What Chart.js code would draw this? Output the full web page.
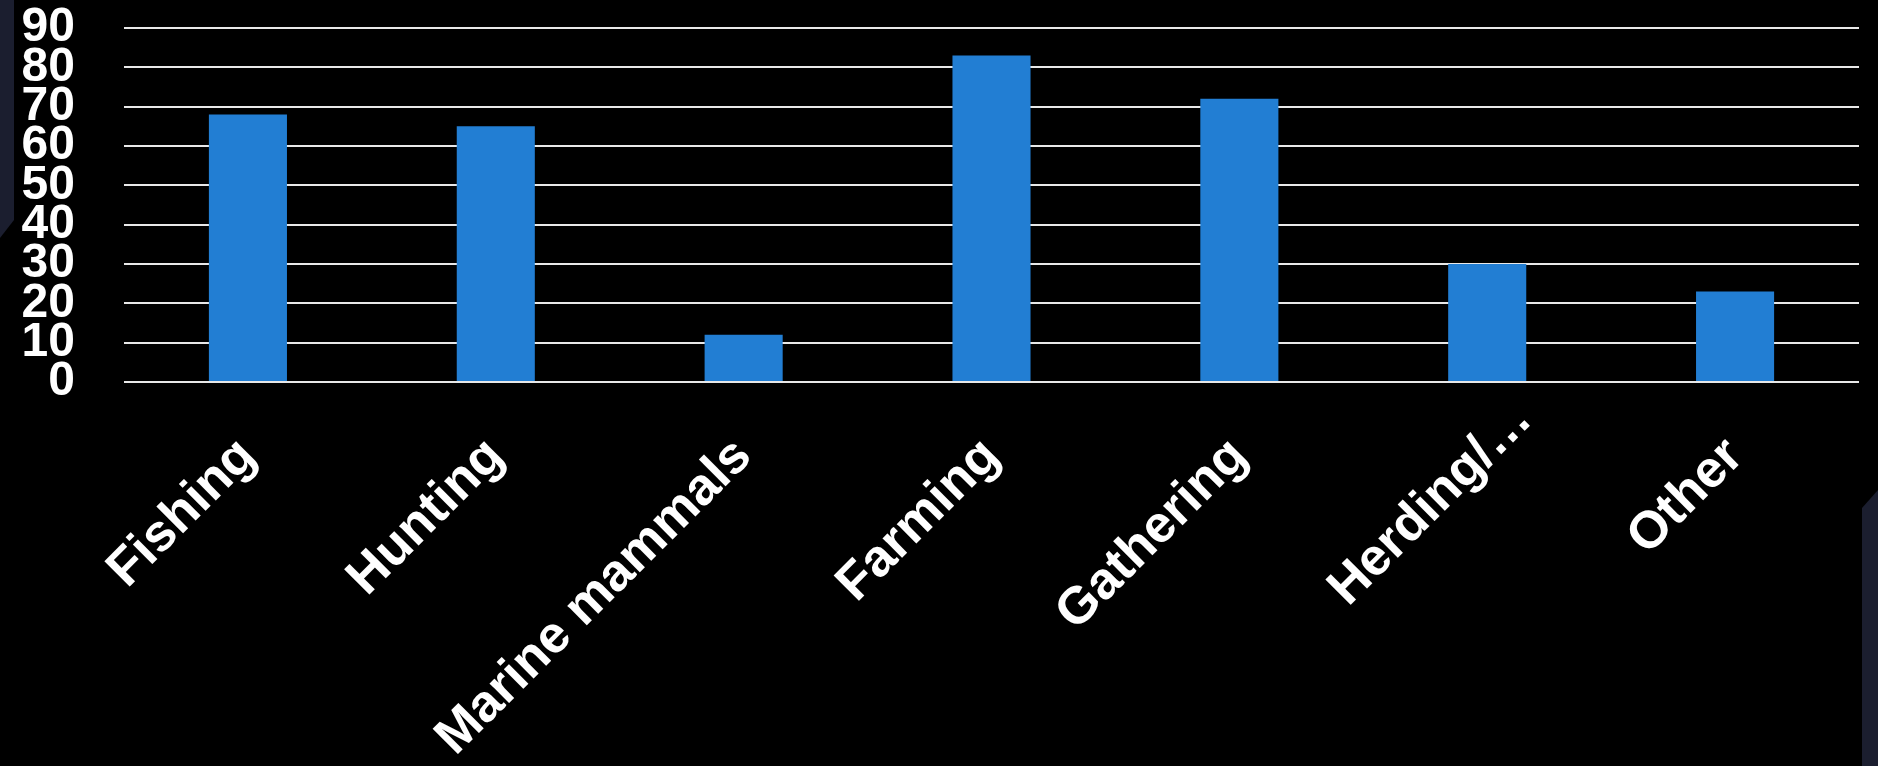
<!DOCTYPE html>
<html>
<head>
<meta charset="utf-8">
<script src="https://cdn.jsdelivr.net/npm/chart.js@4/dist/chart.umd.min.js"></script>
<style>
  html, body { margin: 0; padding: 0; background: #000; }
  #wrap { position: relative; width: 1878px; height: 766px; overflow: hidden; background: #000; }
  /* slide frame accents at the left and right edges */
  .edge-left { position: absolute; left: 0; top: 0; width: 14px; height: 238px; background: #1b1e2f;
               clip-path: polygon(0 0, 100% 0, 100% 220px, 0 100%); }
  .edge-right { position: absolute; right: 0; top: 490px; width: 16px; height: 276px; background: #1b1e2f;
                clip-path: polygon(0 18px, 100% 0, 100% 100%, 0 100%); }
  #chart { position: absolute; left: 0; top: 0; }
</style>
</head>
<body>
<div id="wrap">
  <div class="edge-left"></div>
  <div class="edge-right"></div>
  <canvas id="chart" width="1878" height="766"></canvas>
</div>
<script>
const categories = ['Fishing', 'Hunting', 'Marine mammals', 'Farming', 'Gathering', 'Herding/…', 'Other'];
const values = [68, 65, 12, 83, 72, 30, 23];
const yTickValues = [0, 10, 20, 30, 40, 50, 60, 70, 80, 90];

const fontFamily = '"Liberation Sans", Arial, sans-serif';
const xFont = { family: fontFamily, size: 52, weight: 'bold' };

// A truncated category name keeps its text anchored at the tick,
// so the trailing ellipsis hangs past the tick along the label direction.
const ellipsisOverhang = {
  id: 'ellipsisOverhang',
  beforeDraw(chart) {
    const scale = chart.scales.x;
    const items = scale.getLabelItems(chart.chartArea);
    const ctx = chart.ctx;
    ctx.save();
    ctx.font = `${xFont.weight} ${xFont.size}px ${xFont.family}`;
    const w = ctx.measureText('…').width;
    ctx.restore();
    items.forEach(item => {
      const text = Array.isArray(item.label) ? item.label.join('') : String(item.label);
      if (text.endsWith('…')) {
        const r = item.options.rotation;
        const t = item.options.translation;
        item.options.translation = [t[0] + w * Math.cos(r), t[1] + w * Math.sin(r)];
      }
    });
  }
};

new Chart(document.getElementById('chart'), {
  type: 'bar',
  data: {
    labels: categories,
    datasets: [{
      data: values,
      backgroundColor: '#227ed3',
      borderWidth: 0,
      categoryPercentage: 1,
      barPercentage: 0.315
    }]
  },
  plugins: [ellipsisOverhang],
  options: {
    responsive: false,
    animation: false,
    devicePixelRatio: 1,
    layout: { padding: { top: 28, right: 19, bottom: 0, left: 0 } },
    plugins: { legend: { display: false }, tooltip: { enabled: false } },
    scales: {
      x: {
        grid: { display: false },
        border: { display: false },
        ticks: {
          color: '#ffffff',
          font: xFont,
          minRotation: 45,
          maxRotation: 45,
          autoSkip: false,
          padding: 36
        },
        afterFit(scale) {
          scale.height = 384;
          scale.paddingLeft = 0;
          scale.paddingRight = 0;
        }
      },
      y: {
        min: yTickValues[0],
        max: yTickValues[yTickValues.length - 1],
        afterBuildTicks(scale) { scale.ticks = yTickValues.map(v => ({ value: v })); },
        grid: { color: '#e8e8e8', lineWidth: 2, drawTicks: false },
        border: { display: false },
        ticks: {
          color: '#ffffff',
          font: { family: fontFamily, size: 48, weight: 'bold' },
          padding: 49,
          autoSkip: false
        },
        afterFit(scale) {
          scale.width = 124;
          scale.paddingTop = 0;
          scale.paddingBottom = 0;
        }
      }
    }
  }
});
</script>
</body>
</html>
